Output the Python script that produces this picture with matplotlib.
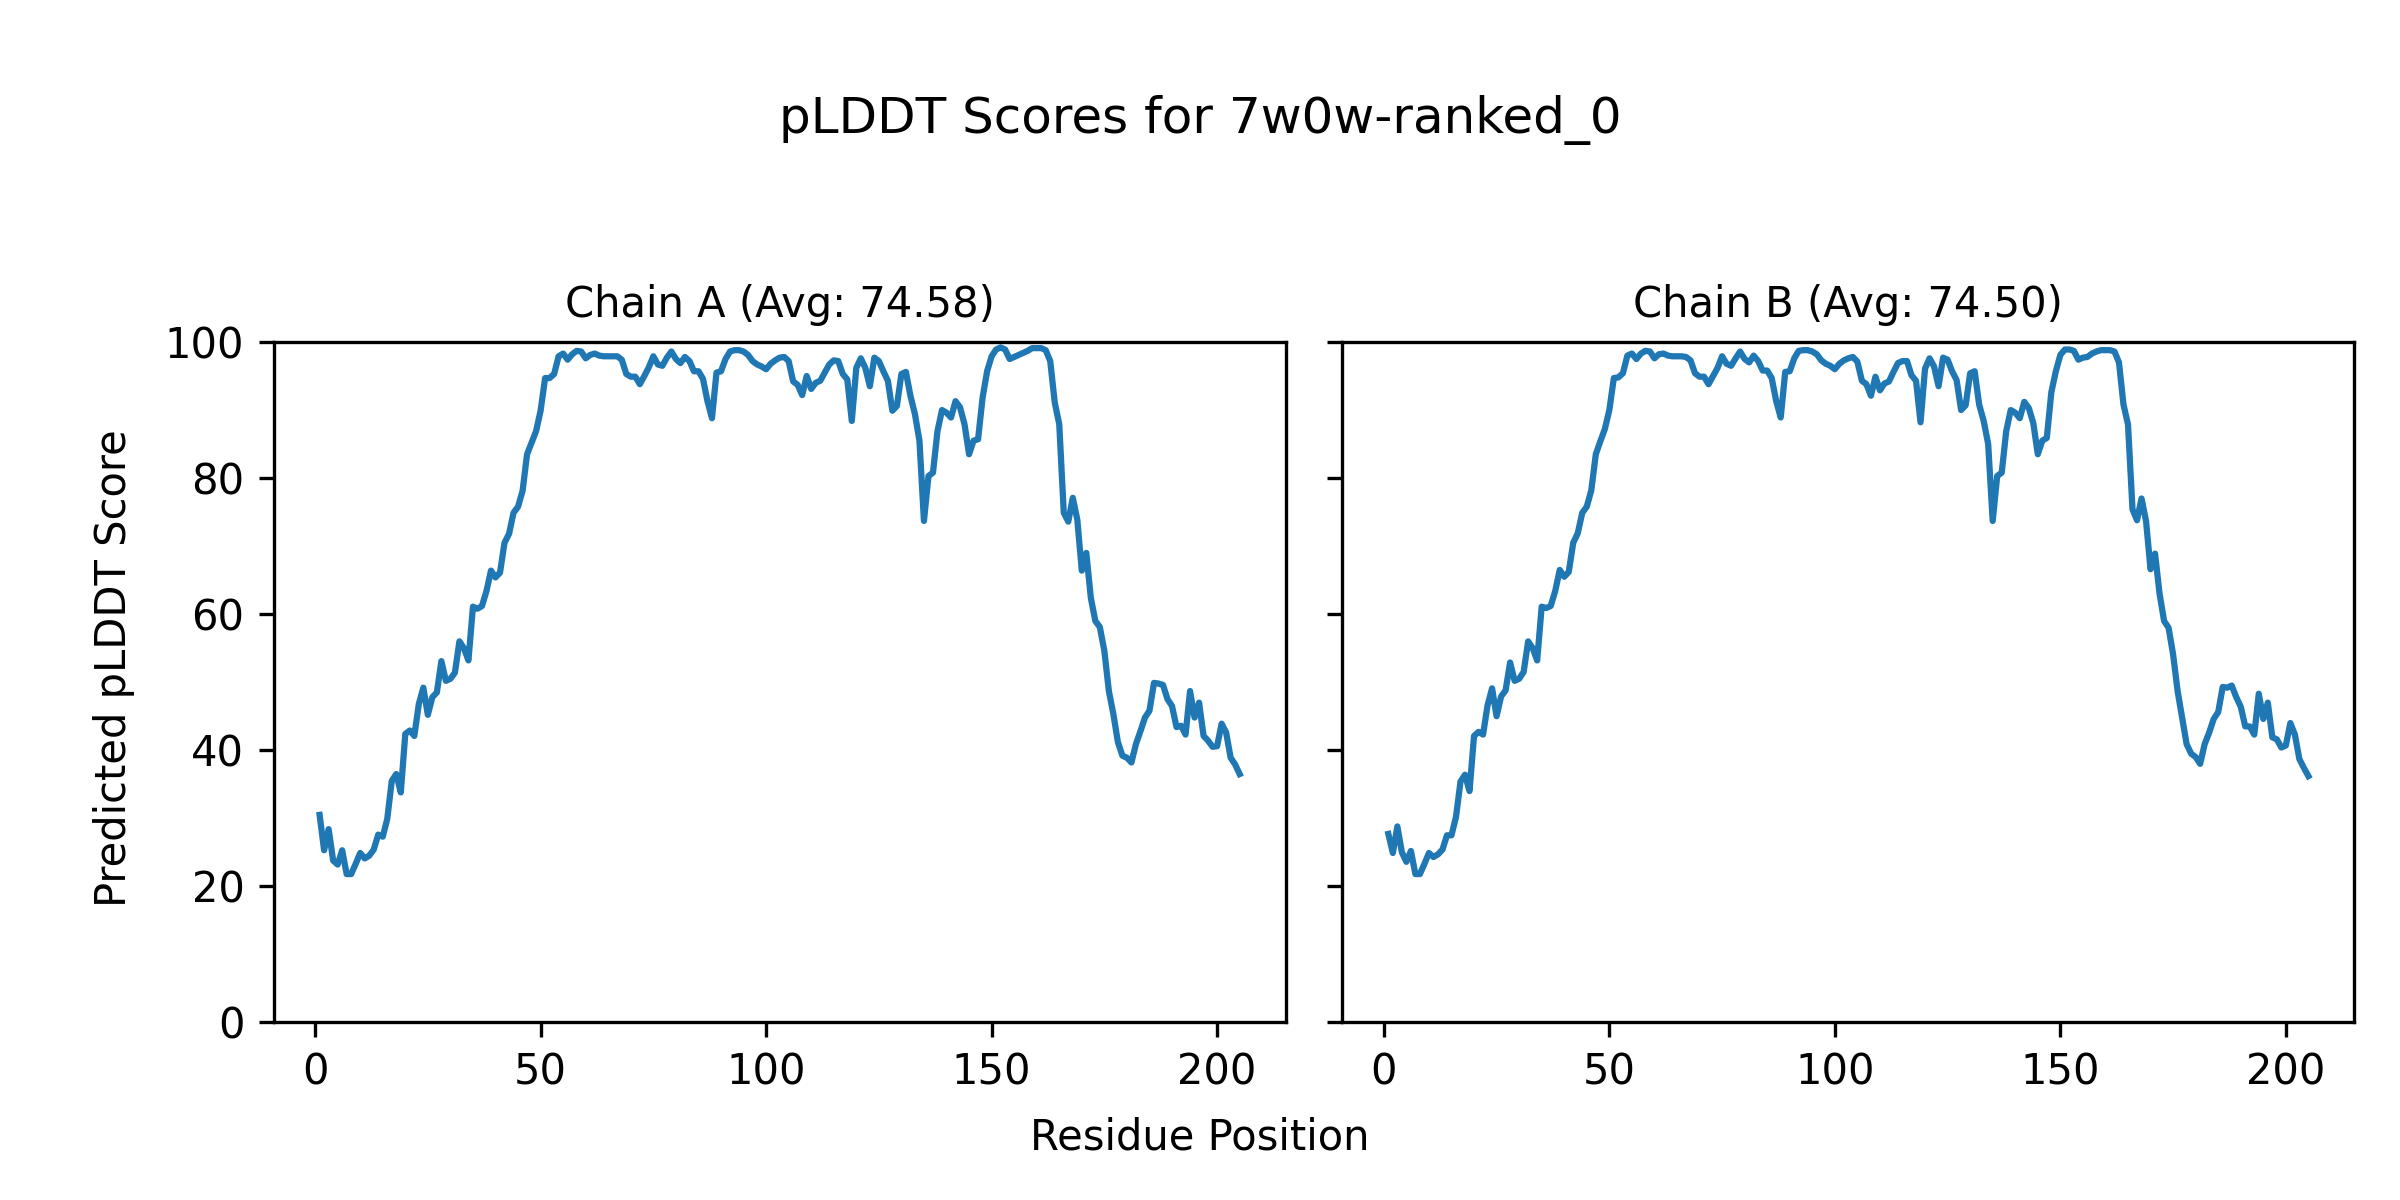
import numpy as np
import matplotlib
matplotlib.use("Agg")
import matplotlib.pyplot as plt

model_name = "7w0w-ranked_0"
chain_titles = ["Chain A (Avg: 74.58)", "Chain B (Avg: 74.50)"]

chain_a = [30.5, 25.3, 28.4, 23.8, 23.2, 25.3, 21.8, 21.8, 23.3, 24.9,
           24.1, 24.5, 25.4, 27.6, 27.3, 29.9, 35.5, 36.5, 33.8, 42.4,
           42.9, 42.1, 46.8, 49.2, 45.2, 47.8, 48.5, 53.1, 50.2, 50.5,
           51.4, 56.0, 55.0, 53.2, 61.1, 60.8, 61.2, 63.4, 66.4, 65.4,
           66.1, 70.5, 71.8, 74.9, 75.8, 78.1, 83.5, 85.2, 86.9, 89.9,
           94.7, 94.7, 95.3, 97.9, 98.3, 97.4, 98.2, 98.7, 98.6, 97.6,
           98.1, 98.3, 98.0, 97.9, 97.9, 97.9, 97.9, 97.4, 95.3, 94.9,
           94.9, 93.8, 95.0, 96.3, 97.9, 96.7, 96.5, 97.7, 98.6, 97.5,
           96.9, 97.8, 97.2, 95.7, 95.7, 94.6, 91.3, 88.8, 95.5, 95.7,
           97.5, 98.6, 98.8, 98.8, 98.6, 98.1, 97.2, 96.7, 96.4, 96.0,
           96.8, 97.3, 97.7, 97.8, 97.2, 94.2, 93.7, 92.2, 95.0, 93.1,
           94.0, 94.3, 95.5, 96.7, 97.3, 97.2, 95.3, 94.5, 88.4, 96.2,
           97.6, 96.2, 93.5, 97.7, 97.2, 95.7, 94.3, 89.9, 90.6, 95.3,
           95.6, 92.1, 89.4, 85.5, 73.7, 80.3, 80.8, 86.9, 90.0, 89.6,
           88.9, 91.3, 90.4, 87.9, 83.5, 85.5, 85.7, 91.8, 95.7, 97.9,
           98.9, 99.2, 98.9, 97.5, 97.8, 98.1, 98.4, 98.7, 99.1, 99.1,
           99.1, 98.8, 97.2, 91.1, 87.9, 74.9, 73.6, 77.1, 73.9, 66.4,
           69.0, 62.4, 59.0, 58.1, 54.6, 48.7, 45.3, 41.2, 39.2, 38.9,
           38.2, 40.9, 42.8, 44.8, 45.8, 49.9, 49.8, 49.6, 47.5, 46.5,
           43.4, 43.6, 42.3, 48.7, 44.8, 47.0, 42.1, 41.4, 40.5, 40.6,
           43.9, 42.6, 38.9, 37.9, 36.5]

chain_b = [27.7, 24.9, 28.8, 25.0, 23.6, 25.2, 21.8, 21.8, 23.3, 24.9,
           24.3, 24.7, 25.4, 27.5, 27.5, 30.2, 35.4, 36.4, 34.0, 42.1,
           42.7, 42.3, 46.6, 49.1, 45.0, 47.9, 48.8, 52.9, 50.2, 50.5,
           51.5, 56.0, 55.0, 53.2, 61.1, 60.9, 61.2, 63.4, 66.5, 65.5,
           66.2, 70.5, 71.9, 74.9, 75.8, 78.2, 83.5, 85.4, 87.2, 90.0,
           94.7, 94.8, 95.4, 98.0, 98.3, 97.5, 98.3, 98.7, 98.6, 97.6,
           98.2, 98.3, 98.0, 97.9, 97.9, 97.9, 97.8, 97.3, 95.4, 94.9,
           94.9, 93.8, 95.0, 96.2, 97.9, 96.8, 96.5, 97.6, 98.6, 97.5,
           97.0, 98.0, 97.2, 95.8, 95.8, 94.7, 91.3, 88.9, 95.6, 95.7,
           97.6, 98.7, 98.8, 98.8, 98.6, 98.2, 97.3, 96.8, 96.5, 96.0,
           96.8, 97.3, 97.6, 97.8, 97.1, 94.3, 93.8, 92.1, 94.9, 92.9,
           93.9, 94.2, 95.6, 96.9, 97.2, 97.2, 95.1, 94.3, 88.2, 96.1,
           97.6, 96.4, 93.5, 97.7, 97.4, 95.7, 94.4, 90.0, 90.7, 95.4,
           95.7, 90.8, 88.4, 85.0, 73.7, 80.3, 80.8, 86.9, 90.0, 89.6,
           88.8, 91.2, 90.3, 88.1, 83.5, 85.5, 85.9, 92.6, 95.7, 98.1,
           98.9, 98.9, 98.7, 97.4, 97.7, 97.8, 98.3, 98.6, 98.8, 98.8,
           98.8, 98.6, 97.0, 90.8, 87.9, 75.4, 73.8, 77.0, 73.7, 66.6,
           68.9, 63.0, 59.0, 58.0, 54.1, 48.7, 44.8, 40.9, 39.5, 39.0,
           38.0, 40.9, 42.6, 44.6, 45.6, 49.3, 49.2, 49.5, 47.8, 46.4,
           43.5, 43.5, 42.3, 48.3, 44.6, 47.0, 41.9, 41.6, 40.4, 40.7,
           44.0, 42.3, 38.7, 37.4, 36.2]

chains = [chain_a, chain_b]

fig, axes = plt.subplots(1, 2, figsize=(8, 4), dpi=300, sharey=True)
fig.subplots_adjust(left=0.114, right=0.981, bottom=0.148, top=0.715, wspace=0.056)

for ax, scores, title in zip(axes, chains, chain_titles):
    residues = np.arange(1, len(scores) + 1)
    ax.plot(residues, scores, color="#1f77b4", linewidth=1.5)
    ax.set_title(title, fontsize=10)
    ax.set_ylim(0, 100)

axes[0].set_ylabel("Predicted pLDDT Score", fontsize=10)
axes[0].yaxis.set_label_coords(-0.137, 0.52)
fig.supxlabel("Residue Position", y=0.052, va="center", fontsize=10)
fig.suptitle("pLDDT Scores for " + model_name, y=0.90, va="center", fontsize=12)

fig.savefig("out.png", dpi=300)
